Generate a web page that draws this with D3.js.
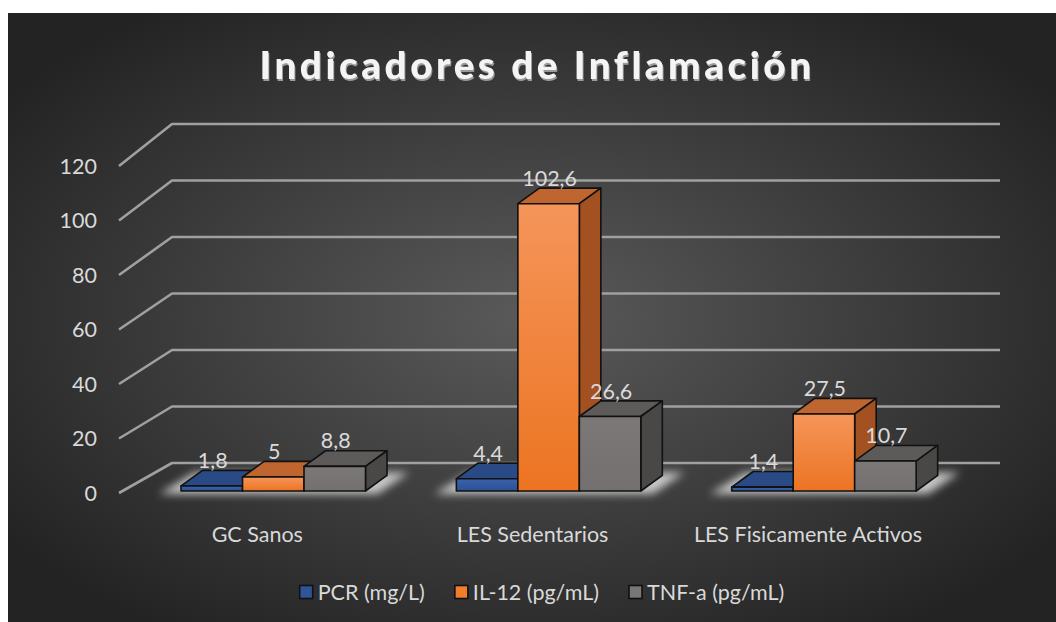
<!DOCTYPE html>
<html><head><meta charset="utf-8">
<script src="https://cdn.jsdelivr.net/npm/d3@7"></script>
<style>
html,body{margin:0;padding:0;background:#fff;}
svg{display:block;}
</style></head>
<body>
<svg id="chart" width="1056" height="622"></svg>
<script>
const title = "Indicadores de Inflamación";
const categories = ["GC Sanos", "LES Sedentarios", "LES Fisicamente Activos"];
const seriesNames = ["PCR (mg/L)", "IL-12 (pg/mL)", "TNF-a (pg/mL)"];
const pcrValues = [1.8, 4.4, 1.4];
const il12Values = [5, 102.6, 27.5];
const tnfValues = [8.8, 26.6, 10.7];
const yTicks = [0, 20, 40, 60, 80, 100, 120];

const seriesValues = [pcrValues, il12Values, tnfValues];
const colors = [
  {front0:"#3a63ac", front1:"#2c5194", top:"#2a4a86", side:"#1f3a6e", leg:"#2f5597"},
  {front0:"#f5955a", front1:"#ec7422", top:"#bf6530", side:"#a45122", leg:"#f07c2c"},
  {front0:"#7d7878", front1:"#747070", top:"#5d5a5a", side:"#4a4747", leg:"#7a7676"}
];
const FONT = "Lato, 'Open Sans', sans-serif";
const FS = 21.5;

const svg = d3.select("#chart");
const defs = svg.append("defs");
const bg = defs.append("radialGradient").attr("id","bg").attr("cx","50%").attr("cy","50%").attr("r","62%");
bg.append("stop").attr("offset","0%").attr("stop-color","#5a5a5a");
bg.append("stop").attr("offset","100%").attr("stop-color","#232323");
colors.forEach((c,i)=>{
  const g = defs.append("linearGradient").attr("id","fr"+i).attr("x1",0).attr("y1",0).attr("x2",0).attr("y2",1);
  g.append("stop").attr("offset","0%").attr("stop-color",c.front0);
  g.append("stop").attr("offset","100%").attr("stop-color",c.front1);
});
const blur = defs.append("filter").attr("id","blur").attr("x","-20%").attr("y","-50%").attr("width","140%").attr("height","200%");
blur.append("feGaussianBlur").attr("stdDeviation",4);
const tsh = defs.append("filter").attr("id","tsh").attr("x","-5%").attr("y","-20%").attr("width","110%").attr("height","150%");
tsh.append("feDropShadow").attr("dx",1).attr("dy",2).attr("stdDeviation",0.6).attr("flood-color","#9a9a9a").attr("flood-opacity",1);

svg.append("rect").attr("x",8).attr("y",13).attr("width",1048).attr("height",609).attr("fill","url(#bg)");

// Title
svg.append("text").attr("x",537).attr("y",79).attr("text-anchor","middle")
  .attr("font-family",FONT).attr("font-weight","900")
  .attr("font-size",38.5).attr("letter-spacing",3.6).attr("fill","#f4f4f4")
  .attr("filter","url(#tsh)").text(title);

// Scales
const yBack = d3.scaleLinear().domain([0,120]).range([463,124]);
const yFront = d3.scaleLinear().domain([0,120]).range([493,166]);
const yBar = d3.scaleLinear().domain([0,120]).range([491,155]);
const xBackL = 172, xBackR = 1000, xFrontL = 119;

// Gridlines
const grid = svg.append("g");
yTicks.forEach(t=>{
  grid.append("polyline")
    .attr("points", `${xFrontL},${yFront(t)} ${xBackL},${yBack(t)} ${xBackR},${yBack(t)}`)
    .attr("fill","none").attr("stroke","#a0a0a0").attr("stroke-width",2.6).attr("stroke-linejoin","round");
});
// Y labels
svg.append("g").selectAll("text").data(yTicks).join("text")
  .attr("x",97).attr("y",d=>yFront(d)).attr("dy","0.35em").attr("text-anchor","end")
  .attr("font-family",FONT).attr("font-size",FS).attr("fill","#d9d9d9")
  .text(d=>d);

const x0 = d3.scaleBand().domain(categories).range([135.6, 961.6]).paddingInner(0.33).paddingOuter(0.165);
const x1 = d3.scaleBand().domain(d3.range(seriesNames.length)).range([0, x0.bandwidth()]);
const dx = 21.5, dy = -15.6;

// Shadows under groups
categories.forEach((c,ci)=>{
  const L = x0(c), R = L + x0.bandwidth(), b = yBar(0);
  svg.append("polygon")
    .attr("points", `${L-22},${b+3} ${R+12},${b+3} ${R+dx+22},${b+dy-3} ${L+dx-8},${b+dy-3}`)
    .attr("fill","#e0e0e0").attr("opacity",0.85).attr("filter","url(#blur)");
});

// Bars
const bars = svg.append("g");
const fmt = v => String(v).replace(".", ",");
categories.forEach((c,ci)=>{
  seriesNames.forEach((s,si)=>{
    const v = seriesValues[si][ci];
    const L = x0(c) + x1(si), R = L + x1.bandwidth();
    const b = yBar(0), t = yBar(v);
    const col = colors[si];
    const g = bars.append("g").attr("stroke","#111").attr("stroke-width",1.6).attr("stroke-linejoin","round");
    g.append("polygon").attr("points",`${L},${t} ${R},${t} ${R+dx},${t+dy} ${L+dx},${t+dy}`).attr("fill",col.top);
    g.append("polygon").attr("points",`${R},${t} ${R+dx},${t+dy} ${R+dx},${b+dy} ${R},${b}`).attr("fill",col.side);
    g.append("rect").attr("x",L).attr("y",t).attr("width",R-L).attr("height",b-t).attr("fill",`url(#fr${si})`);
  });
});
// Data labels
categories.forEach((c,ci)=>{
  seriesNames.forEach((s,si)=>{
    const v = seriesValues[si][ci];
    const L = x0(c) + x1(si);
    svg.append("text").attr("x", L + x1.bandwidth()/2 + 1).attr("y", yBar(v) - 18)
      .attr("text-anchor","middle").attr("font-family",FONT)
      .attr("font-size",FS).attr("fill","#dadada").text(fmt(v));
  });
});

// Category labels
svg.append("g").selectAll("text").data(categories).join("text")
  .attr("x", d=>x0(d)+x0.bandwidth()/2 - 16).attr("y",534).attr("dy","0.35em")
  .attr("text-anchor","middle").attr("font-family",FONT)
  .attr("font-size",FS).attr("fill","#d9d9d9").text(d=>d);

// Legend (centered)
const leg = svg.append("g");
const items = seriesNames.map((s,si)=>{
  const g = leg.append("g");
  g.append("rect").attr("x",0).attr("y",585.5).attr("width",13).attr("height",13)
    .attr("fill",colors[si].leg).attr("stroke","#111").attr("stroke-width",1.6);
  const tx = g.append("text").attr("x",18).attr("y",592).attr("dy","0.35em")
    .attr("font-family",FONT).attr("font-size",FS).attr("fill","#d9d9d9").text(s);
  return {g, w: 18 + tx.node().getComputedTextLength()};
});
const gap = 30;
const total = d3.sum(items, d=>d.w) + gap*(items.length-1);
let lx = 542 - total/2;
items.forEach(it=>{ it.g.attr("transform",`translate(${lx},0)`); lx += it.w + gap; });
</script>
</body></html>
